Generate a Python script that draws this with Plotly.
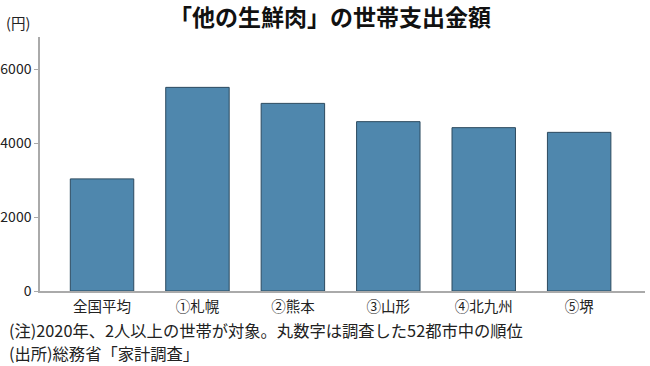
import plotly.graph_objects as go

categories = ["全国平均", "①札幌", "②熊本", "③山形", "④北九州", "⑤堺"]
values = [3030, 5504, 5071, 4577, 4415, 4288]
y_ticks = [0, 2000, 4000, 6000]

FONT = "Noto Sans CJK JP"
W, H = 650, 366
L, R, T, B = 40, 5, 37, 75

fig = go.Figure(go.Bar(
    x=categories, y=values,
    marker=dict(color="#4f87ad", line=dict(color="#2c4a5f", width=1)),
    width=0.665,
))

def px_x(x):
    return (x - L) / (W - L - R)

def px_y(y):
    return (H - B - y) / (H - T - B)

fig.update_layout(
    width=W, height=H,
    margin=dict(l=L, r=R, t=T, b=B, autoexpand=False),
    paper_bgcolor="white", plot_bgcolor="white",
    font=dict(family=FONT, color="#222222", size=15),
    showlegend=False,
    title=dict(text="<b>「他の生鮮肉」の世帯支出金額</b>", x=330 / W, xanchor="center",
               y=1 - 17.5 / H, yanchor="middle", font=dict(size=23, color="#111111", family=FONT)),
    xaxis=dict(range=[-0.65, 5.69], showline=True, linecolor="#aaaaaa", linewidth=1.5,
               ticks="", showgrid=False, tickfont=dict(size=14.5), automargin=False,
               ticklabelstandoff=2),
    yaxis=dict(range=[0, 6865], tickvals=y_ticks, ticktext=[str(v) for v in y_ticks],
               showline=True, linecolor="#aaaaaa", linewidth=1.5, ticks="outside",
               ticklen=4, tickcolor="#aaaaaa", showgrid=False, zeroline=False,
               tickfont=dict(size=14), automargin=False, ticklabelstandoff=0),
    annotations=[
        dict(text="(円)", xref="paper", yref="paper", x=px_x(4), y=px_y(22), xanchor="left",
             yanchor="middle", showarrow=False, font=dict(size=14.5)),
        dict(text="(注)2020年、2人以上の世帯が対象。丸数字は調査した52都市中の順位",
             xref="paper", yref="paper", x=px_x(7), y=px_y(330), xanchor="left", yanchor="middle",
             showarrow=False, font=dict(size=16.3)),
        dict(text="(出所)総務省「家計調査」",
             xref="paper", yref="paper", x=px_x(7), y=px_y(353), xanchor="left", yanchor="middle",
             showarrow=False, font=dict(size=16.3)),
    ],
)

fig.write_html("out.html", config={"displayModeBar": False},
               post_script="document.body.style.margin='0';")
